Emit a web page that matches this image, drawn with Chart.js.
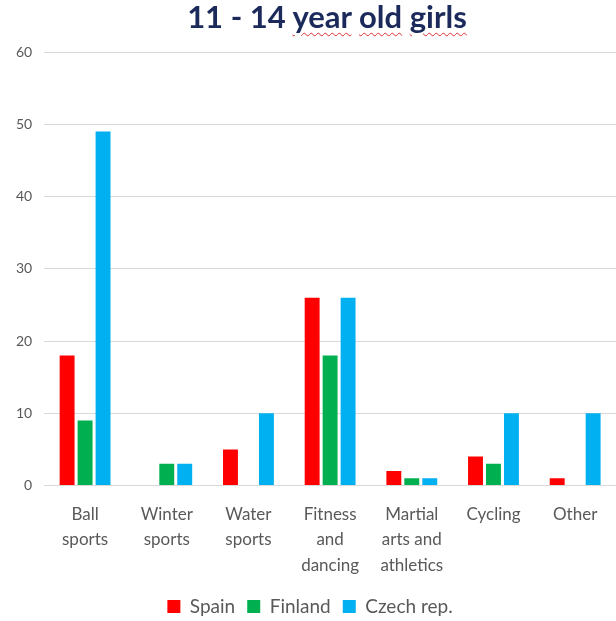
<!DOCTYPE html>
<html>
<head>
<meta charset="utf-8">
<script src="https://cdn.jsdelivr.net/npm/chart.js@4"></script>
<style>
  html, body { margin: 0; padding: 0; background: #fff; }
  #wrap { position: relative; width: 616px; height: 621px; }
  #title {
    position: absolute; left: 0; top: -3px; width: 654px; text-align: center;
    font-family: Lato, sans-serif; font-weight: bold; font-size: 31px; color: #1b2a5a;
  }
  #title span { text-decoration: underline wavy #e03030; text-decoration-thickness: 1px; text-underline-offset: 4px; }
  canvas { position: absolute; left: 0; top: 0; }
</style>
</head>
<body>
<div id="wrap">
  <canvas id="chart" width="616" height="621"></canvas>
  <div id="title">11 - 14 <span>year</span> <span>old</span> <span>girls</span></div>
</div>
<script>
// categories and series
const categories = [
    'Ball sports',
    'Winter sports',
    'Water sports',
    'Fitness and dancing',
    'Martial arts and athletics',
    'Cycling',
    'Other'
];
const categoryLines = [
    ['Ball', 'sports'],
    ['Winter', 'sports'],
    ['Water', 'sports'],
    ['Fitness', 'and', 'dancing'],
    ['Martial', 'arts and', 'athletics'],
    ['Cycling'],
    ['Other']
];
const spain = [18, 0, 5, 26, 2, 4, 1];
const finland = [9, 3, 0, 18, 1, 3, 0];
const czech = [49, 3, 10, 26, 1, 10, 10];
const yTicks = [0, 10, 20, 30, 40, 50, 60];

// pull the legend row up closer to the category labels
const legendLift = {
    id: 'legendLift',
    afterLayout(chart) {
        chart.legend.top -= 9;
        chart.legend.bottom -= 9;
    }
};

const ctx = document.getElementById('chart').getContext('2d');
new Chart(ctx, {
    type: 'bar',
    data: {
        labels: categoryLines,
        datasets: [
            { label: 'Spain', data: spain, backgroundColor: '#ff0000' },
            { label: 'Finland', data: finland, backgroundColor: '#00b050' },
            { label: 'Czech rep.', data: czech, backgroundColor: '#00b0f0' }
        ]
    },
    options: {
        responsive: false,
        animation: false,
        layout: { padding: { top: 52, left: 4, right: 0, bottom: -14 } },
        datasets: {
            bar: { categoryPercentage: 0.66, barPercentage: 0.83 }
        },
        plugins: {
            title: { display: false },
            tooltip: { enabled: false },
            legend: {
                position: 'bottom',
                labels: {
                    boxWidth: 13, boxHeight: 13, padding: 12,
                    color: '#595959',
                    font: { family: 'Lato, sans-serif', size: 19 }
                }
            }
        },
        scales: {
            x: {
                grid: { display: false, drawTicks: false },
                border: { display: false },
                ticks: {
                    color: '#595959', padding: 16, maxRotation: 0, autoSkip: false,
                    font: { family: 'Lato, sans-serif', size: 17, lineHeight: 1.5 }
                }
            },
            y: {
                min: 0, max: 60,
                afterBuildTicks: axis => { axis.ticks = yTicks.map(v => ({ value: v })); },
                grid: { color: '#d9d9d9', drawTicks: false, lineWidth: 1 },
                border: { display: false },
                ticks: {
                    color: '#595959', padding: 12,
                    font: { family: 'Lato, sans-serif', size: 14 }
                }
            }
        }
    },
    plugins: [legendLift]
});
</script>
</body>
</html>
